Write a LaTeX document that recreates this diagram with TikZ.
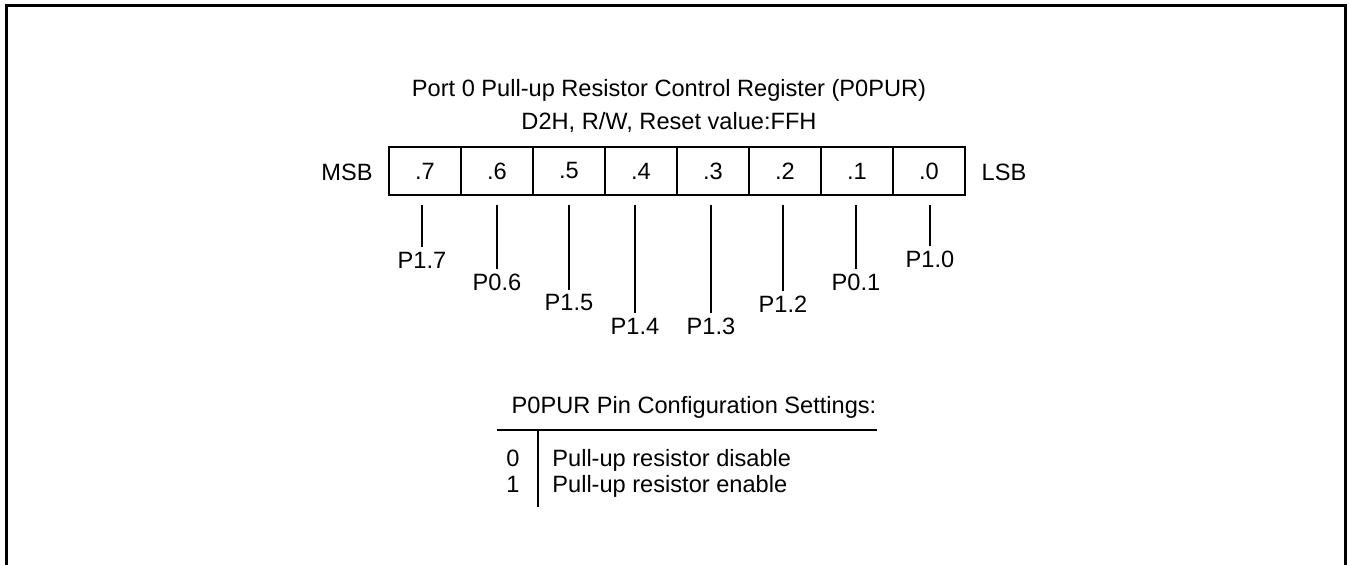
\documentclass[tikz,border=0pt]{standalone}
\usepackage{fontspec}
\setmainfont{Liberation Sans}
\usetikzlibrary{positioning}

\begin{document}
\begin{tikzpicture}[
    x=0.5pt, y=-0.5pt,
    font=\fontsize{11.8}{16.5}\selectfont,
    cell/.style={rectangle, draw, line width=0.8pt, minimum width=36pt, minimum height=24pt, outer sep=0pt, inner sep=0pt},
    pin/.style={inner sep=2pt},
    pinline/.style={line width=0.8pt},
    frame/.style={line width=1.5pt}
]
    \useasboundingbox (0,0) rectangle (1349,565);
    \draw[frame] (6,565) -- (6,6) -- (1345,6) -- (1345,565);

    \node[align=center] (title) at (669,106) {Port 0 Pull-up Resistor Control Register (P0PUR)\\D2H, R/W, Reset value:FFH};

    % register bits
    \node[cell] (b7) at (425,171) {.7};
    \node[cell, right=0pt of b7] (b6) {.6};
    \node[cell, right=0pt of b6] (b5) {.5};
    \node[cell, right=0pt of b5] (b4) {.4};
    \node[cell, right=0pt of b4] (b3) {.3};
    \node[cell, right=0pt of b3] (b2) {.2};
    \node[cell, right=0pt of b2] (b1) {.1};
    \node[cell, right=0pt of b1] (b0) {.0};
    \node (msb) at (347,172) {MSB};
    \node (lsb) at (1004,172) {LSB};
    \coordinate (row) at ([yshift=-5pt]b7.south);

    % pin labels
    \node[pin] (p17) at (422,260) {P1.7};
    \node[pin] (p06) at (497,282) {P0.6};
    \node[pin] (p15) at (569,303) {P1.5};
    \node[pin] (p14) at (635,326) {P1.4};
    \node[pin] (p13) at (711,326) {P1.3};
    \node[pin] (p12) at (783,304) {P1.2};
    \node[pin] (p01) at (856,282) {P0.1};
    \node[pin] (p10) at (930,259) {P1.0};

    \draw[pinline] (p17.north) -- (p17.north |- row);
    \draw[pinline] (p06.north) -- (p06.north |- row);
    \draw[pinline] (p15.north) -- (p15.north |- row);
    \draw[pinline] (p14.north) -- (p14.north |- row);
    \draw[pinline] (p13.north) -- (p13.north |- row);
    \draw[pinline] (p12.north) -- (p12.north |- row);
    \draw[pinline] (p01.north) -- (p01.north |- row);
    \draw[pinline] (p10.north) -- (p10.north |- row);

    % settings table
    \node[anchor=base] (setting) at (694,414) {P0PUR Pin Configuration Settings:};
    \coordinate (hl) at (497,430);
    \coordinate (hr) at (877,430);
    \coordinate (vt) at (538,430);
    \coordinate (vb) at (538,507);
    \draw[pinline] (hl) -- (hr);
    \draw[pinline] (vt) -- (vb);
    \node[anchor=base] (v0) at (513,467) {0};
    \node[anchor=base] (v1) at (513,493) {1};
    \node[anchor=base west, inner sep=0pt] (d0) at (552,467) {Pull-up resistor disable};
    \node[anchor=base west, inner sep=0pt] (d1) at (552,493) {Pull-up resistor enable};
\end{tikzpicture}
\end{document}
